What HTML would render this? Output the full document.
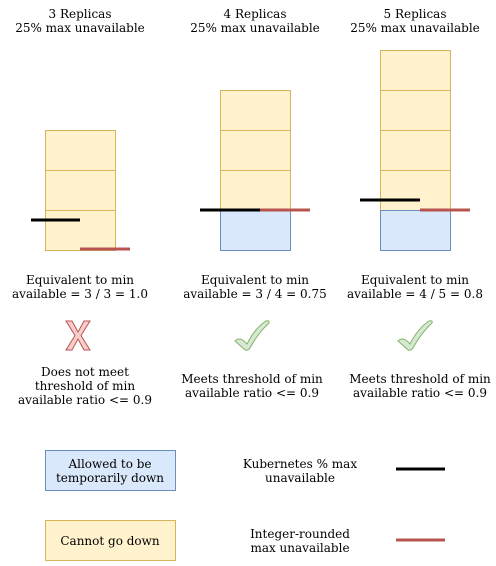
<!DOCTYPE html>
<html><head><meta charset="utf-8"><style>
html,body{margin:0;padding:0;background:#fff;}
svg text{font-family:"DejaVu Serif","Liberation Serif",serif;font-size:12px;fill:#000;text-anchor:middle;}
</style></head><body>
<svg width="496" height="561" viewBox="0 0 496 561" xmlns="http://www.w3.org/2000/svg">
<g>
<text x="80" y="18">3 Replicas</text>
<text x="80" y="32">25% max unavailable</text>
<rect x="45.5" y="130.5" width="70" height="40" fill="#fff2cc" stroke="#d6b656"/>
<rect x="45.5" y="170.5" width="70" height="40" fill="#fff2cc" stroke="#d6b656"/>
<rect x="45.5" y="210.5" width="70" height="40" fill="#fff2cc" stroke="#d6b656"/>
<line x1="31" y1="220" x2="80" y2="220" stroke="#000" stroke-width="3"/>
<line x1="80" y1="249" x2="130" y2="249" stroke="#b85450" stroke-width="3"/>
<text x="80" y="284">Equivalent to min</text>
<text x="80" y="298">available = 3 / 3 = 1.0</text>
<path d="M66,321 H72 L78,332 L84,321 H90 L81,335.5 L90,350 H84 L78,339 L72,350 H66 L75,335.5 Z" fill="#f8cecc" stroke="#b85450" stroke-width="1"/>
<text x="85" y="376">Does not meet</text>
<text x="85" y="390">threshold of min</text>
<text x="85" y="404">available ratio &lt;= 0.9</text>
</g>
<g>
<text x="255" y="18">4 Replicas</text>
<text x="255" y="32">25% max unavailable</text>
<rect x="220.5" y="90.5" width="70" height="40" fill="#fff2cc" stroke="#d6b656"/>
<rect x="220.5" y="130.5" width="70" height="40" fill="#fff2cc" stroke="#d6b656"/>
<rect x="220.5" y="170.5" width="70" height="40" fill="#fff2cc" stroke="#d6b656"/>
<rect x="220.5" y="210.5" width="70" height="40" fill="#dae8fc" stroke="#6c8ebf"/>
<line x1="200" y1="210" x2="260" y2="210" stroke="#000" stroke-width="3"/>
<line x1="260" y1="210" x2="310" y2="210" stroke="#b85450" stroke-width="3"/>
<text x="255" y="284">Equivalent to min</text>
<text x="255" y="298">available = 3 / 4 = 0.75</text>
<path d="M235,341 Q239,337 244,341 L247,344 Q255,328 266,321 Q270,320 269,323 Q258,333 250,348 Q247,352 244,349 Z" fill="#d5e8d4" stroke="#82b366" stroke-width="1"/>
<text x="252" y="383">Meets threshold of min</text>
<text x="252" y="397">available ratio &lt;= 0.9</text>
</g>
<g>
<text x="415" y="18">5 Replicas</text>
<text x="415" y="32">25% max unavailable</text>
<rect x="380.5" y="50.5" width="70" height="40" fill="#fff2cc" stroke="#d6b656"/>
<rect x="380.5" y="90.5" width="70" height="40" fill="#fff2cc" stroke="#d6b656"/>
<rect x="380.5" y="130.5" width="70" height="40" fill="#fff2cc" stroke="#d6b656"/>
<rect x="380.5" y="170.5" width="70" height="40" fill="#fff2cc" stroke="#d6b656"/>
<rect x="380.5" y="210.5" width="70" height="40" fill="#dae8fc" stroke="#6c8ebf"/>
<line x1="360" y1="200" x2="420" y2="200" stroke="#000" stroke-width="3"/>
<line x1="420" y1="210" x2="470" y2="210" stroke="#b85450" stroke-width="3"/>
<text x="415" y="284">Equivalent to min</text>
<text x="415" y="298">available = 4 / 5 = 0.8</text>
<path d="M398,341 Q402,337 407,341 L410,344 Q418,328 429,321 Q433,320 432,323 Q421,333 413,348 Q410,352 407,349 Z" fill="#d5e8d4" stroke="#82b366" stroke-width="1"/>
<text x="420" y="383">Meets threshold of min</text>
<text x="420" y="397">available ratio &lt;= 0.9</text>
</g>
<g>
<rect x="45.5" y="450.5" width="130" height="40" fill="#dae8fc" stroke="#6c8ebf"/>
<text x="110" y="468">Allowed to be</text>
<text x="110" y="482">temporarily down</text>
<rect x="45.5" y="520.5" width="130" height="40" fill="#fff2cc" stroke="#d6b656"/>
<text x="110" y="545">Cannot go down</text>
<text x="300" y="468">Kubernetes % max</text>
<text x="300" y="482">unavailable</text>
<line x1="396" y1="469" x2="445" y2="469" stroke="#000" stroke-width="3"/>
<text x="300" y="538">Integer-rounded</text>
<text x="300" y="552">max unavailable</text>
<line x1="396" y1="540" x2="445" y2="540" stroke="#b85450" stroke-width="3"/>
</g>
</svg>
</body></html>
